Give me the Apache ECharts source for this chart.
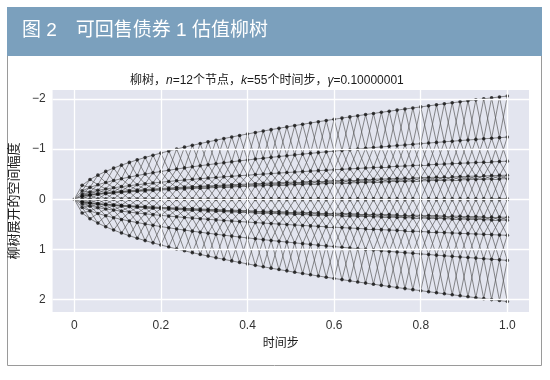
<!DOCTYPE html>
<html>
<head>
<meta charset="utf-8">
<script src="https://cdn.jsdelivr.net/npm/echarts@6/dist/echarts.min.js"></script>
<style>
  html, body { margin: 0; padding: 0; background: #fff; }
  #main { width: 550px; height: 380px; }
</style>
</head>
<body>
<div id="main"></div>
<script>
// willow tree node values at t = 1, 12 nodes
var nodeZ = [-2.06, -1.24, -0.76, -0.48, -0.41, -0.01, 0.01, 0.36, 0.42, 0.72, 1.22, 2.04];
var timeSteps = 55;
var xTicks = [0, 0.2, 0.4, 0.6, 0.8, 1.0];
var yTicks = [-2, -1, 0, 1, 2];

var font = '"Liberation Sans", "Noto Sans CJK SC", sans-serif';

// nodes at step k sit at z * sqrt(t_k)
function nodesAt(k) {
	var t = k / timeSteps;
	return nodeZ.map(function(z) { return [t, z * Math.sqrt(t)]; });
}

var points = [[0, 0]];
var edges = [];
var prev = null;
for (var k = 1; k <= timeSteps; k++) {
	var cur = nodesAt(k);
	cur.forEach(function(p) { points.push(p); });
	if (prev === null) {
		cur.forEach(function(p) { edges.push({ coords: [[0, 0], p] }); });
	} else {
		for (var i = 0; i < prev.length; i++) {
			for (var j = 0; j < cur.length; j++) {
				if (Math.abs(i - j) <= 1) edges.push({ coords: [prev[i], cur[j]] });
			}
		}
	}
	prev = cur;
}

var myChart = echarts.init(document.getElementById('main'));

option = {
	backgroundColor: '#fff',
	animation: false,
	graphic: [
		{ type: 'rect', shape: { x: 7.5, y: 7.5, width: 534, height: 358 }, style: { fill: '#fff', stroke: '#9a9a9a', lineWidth: 1 }, z: -10 },
		{ type: 'rect', shape: { x: 7, y: 7, width: 535, height: 49 }, style: { fill: '#7ba0bd' }, z: -9 },
		{ type: 'text', left: 22, top: 21, style: { text: '图 2　可回售债券 1 估值柳树', fill: '#fff', font: '19px ' + font }, z: 5 }
	],
	title: {
		text: '柳树，{i|n}=12个节点，{i|k}=55个时间步，{i|γ}=0.10000001',
		left: 130,
		top: 75,
		padding: 0,
		textStyle: {
			fontSize: 12,
			fontWeight: 'normal',
			color: '#1a1a1a',
			fontFamily: font,
			rich: {
				i: { fontStyle: 'italic', fontSize: 12, color: '#1a1a1a', fontFamily: font }
			}
		}
	},
	grid: {
		left: 49,
		right: 21,
		top: 90,
		bottom: 68,
		show: true,
		backgroundColor: '#e3e5ef',
		borderWidth: 0
	},
	xAxis: {
		type: 'value',
		min: -0.05,
		max: 1.05,
		name: '时间步',
		nameLocation: 'middle',
		nameGap: 26,
		nameTextStyle: { fontSize: 12, color: '#1a1a1a', fontFamily: font, padding: [0, 20, 0, 0] },
		axisLine: { show: false },
		axisTick: { show: false },
		splitLine: { show: false },
		axisLabel: {
			customValues: xTicks,
			fontSize: 12,
			color: '#333',
			fontFamily: font,
			margin: 8,
			formatter: function(v) { return v === 0 ? '0' : v.toFixed(1); }
		}
	},
	yAxis: {
		type: 'value',
		inverse: true,
		min: -2.18,
		max: 2.25,
		name: '柳树展开的空间幅度',
		nameLocation: 'middle',
		nameGap: 20,
		nameTextStyle: { fontSize: 13, color: '#1a1a1a', fontFamily: font },
		axisLine: { show: false },
		axisTick: { show: false },
		splitLine: { show: false },
		axisLabel: {
			customValues: yTicks,
			fontSize: 12,
			color: '#333',
			fontFamily: font,
			margin: 7,
			formatter: function(v) { return String(v).replace('-', '−'); }
		}
	},
	series: [
		{
			type: 'line',
			data: [],
			z: 1,
			markLine: {
				silent: true,
				symbol: 'none',
				label: { show: false },
				lineStyle: { color: '#fff', width: 1.3, type: 'solid' },
				data: xTicks.map(function(v) { return { xAxis: v }; })
					.concat(yTicks.map(function(v) { return { yAxis: v }; }))
			}
		},
		{
			type: 'lines',
			coordinateSystem: 'cartesian2d',
			z: 2,
			silent: true,
			lineStyle: { color: 'rgba(85,85,85,0.8)', width: 0.85, opacity: 1 },
			data: edges
		},
		{
			type: 'scatter',
			z: 3,
			silent: true,
			symbolSize: 3.6,
			itemStyle: { color: '#111' },
			data: points
		}
	]
};

myChart.setOption(option);
</script>
</body>
</html>
